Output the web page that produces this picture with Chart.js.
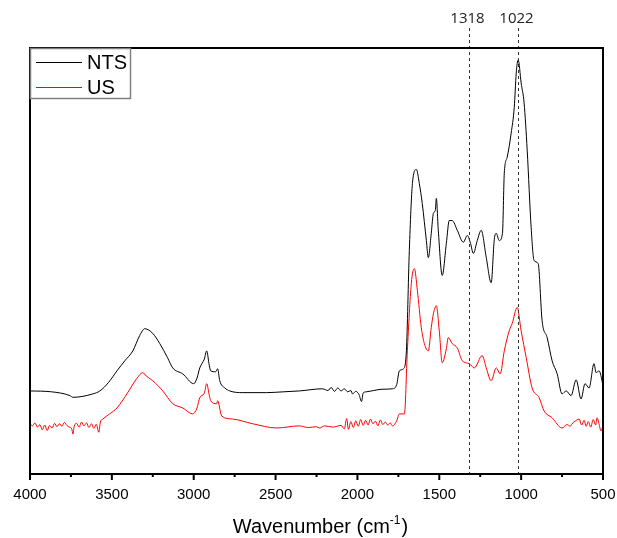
<!DOCTYPE html>
<html>
<head>
<meta charset="utf-8">
<script src="https://cdn.jsdelivr.net/npm/chart.js@4"></script>
<style>
  html, body { margin: 0; padding: 0; background: #fff; }
  #wrap { width: 617px; height: 538px; }
</style>
</head>
<body>
<div id="wrap"><canvas id="ftir"></canvas></div>
<script>
// spectra (wavenumber, arbitrary intensity)
const ntsWave = [
  4000, 3870, 3756, 3738, 3616, 3573, 3520, 3469, 3420, 3372,
  3330, 3299, 3250, 3207, 3160, 3128, 3067, 3000, 2980, 2963,
  2935, 2921, 2905, 2896, 2866, 2854, 2841, 2810, 2780, 2700,
  2555, 2450, 2354, 2213, 2180, 2160, 2140, 2120, 2100, 2080,
  2060, 2040, 2030, 2010, 1990, 1975, 1965, 1945, 1900, 1850,
  1786, 1760, 1744, 1719, 1701, 1683, 1664, 1640, 1622, 1604,
  1579, 1567, 1549, 1536, 1524, 1518, 1506, 1482, 1457, 1439,
  1421, 1390, 1353, 1329, 1311, 1292, 1268, 1244, 1213, 1183,
  1164, 1152, 1134, 1114, 1103, 1085, 1061, 1042, 1030, 1018,
  1000, 982, 963, 939, 921, 896, 872, 841, 811, 780,
  750, 725, 695, 664, 634, 610, 585, 555, 542, 524,
  506, 500
];
const ntsAbs = [
  19.5, 19.3, 18.4, 18.0, 18.8, 19.5, 21.5, 24.2, 26.6, 28.9,
  32.5, 34.1, 33.0, 30.6, 27.3, 24.9, 23.5, 21.2, 22.5, 24.9,
  27.0, 28.9, 25.5, 24.2, 24.0, 24.7, 21.9, 20.2, 19.5, 19.1,
  19.1, 19.3, 19.5, 20.0, 19.6, 20.3, 19.4, 20.2, 19.5, 20.0,
  19.3, 19.6, 18.8, 19.4, 18.6, 17.0, 19.0, 19.3, 19.6, 19.9,
  20.0, 21.0, 24.2, 24.7, 28.9, 52.5, 68.2, 71.5, 68.2, 63.5,
  54.8, 50.8, 56.5, 61.2, 61.9, 64.7, 57.2, 46.6, 54.1, 59.5,
  59.5, 57.2, 54.4, 56.0, 54.4, 51.8, 54.8, 57.2, 50.8, 44.9,
  55.1, 56.5, 54.8, 56.5, 70.6, 74.4, 80.0, 86.1, 94.1, 97.2,
  91.8, 87.1, 76.0, 57.9, 50.1, 49.4, 36.0, 32.0, 26.6, 23.5,
  18.8, 19.5, 18.4, 22.1, 17.6, 21.2, 20.2, 25.9, 23.8, 24.2,
  21.9, 20.5
];
const usWave = [
  4000, 3985, 3970, 3955, 3940, 3925, 3910, 3895, 3880, 3865,
  3850, 3835, 3820, 3805, 3790, 3775, 3760, 3745, 3738, 3730,
  3715, 3700, 3685, 3670, 3655, 3640, 3625, 3610, 3595, 3580,
  3570, 3555, 3510, 3469, 3408, 3348, 3311, 3290, 3250, 3189,
  3128, 3067, 3006, 2980, 2963, 2935, 2921, 2905, 2896, 2860,
  2854, 2829, 2762, 2640, 2494, 2354, 2300, 2250, 2232, 2200,
  2150, 2100, 2080, 2066, 2055, 2040, 2025, 2010, 1995, 1980,
  1965, 1950, 1935, 1920, 1905, 1890, 1875, 1860, 1845, 1830,
  1815, 1800, 1786, 1760, 1744, 1713, 1695, 1671, 1652, 1634,
  1610, 1591, 1567, 1549, 1536, 1518, 1500, 1482, 1457, 1445,
  1421, 1390, 1360, 1317, 1286, 1238, 1213, 1183, 1152, 1128,
  1103, 1073, 1055, 1024, 1000, 969, 933, 890, 860, 811,
  750, 720, 700, 689, 670, 646, 630, 615, 603, 590,
  575, 560, 545, 536, 525, 512, 500
];
const usAbs = [
  11.8, 11.3, 12.0, 11.0, 11.6, 10.4, 11.5, 10.2, 11.4, 10.8,
  11.9, 11.1, 11.8, 11.2, 12.1, 11.4, 11.0, 10.6, 9.4, 11.2,
  11.9, 11.0, 12.2, 11.3, 12.0, 10.9, 11.8, 10.7, 11.7, 9.8,
  12.2, 12.9, 14.2, 15.5, 18.8, 22.4, 23.8, 23.0, 21.9, 19.5,
  16.5, 15.5, 14.1, 15.5, 17.9, 19.0, 21.2, 18.5, 17.2, 16.5,
  17.2, 13.6, 12.9, 11.8, 10.8, 11.3, 10.9, 11.1, 10.8, 11.3,
  11.0, 11.4, 10.6, 13.0, 10.5, 12.3, 10.9, 12.5, 11.2, 12.8,
  11.4, 12.6, 11.5, 12.9, 11.8, 12.4, 11.3, 12.7, 11.6, 12.2,
  11.5, 12.0, 11.3, 12.5, 14.1, 14.1, 28.9, 44.7, 48.2, 43.1,
  34.4, 30.6, 28.9, 34.4, 37.6, 39.5, 33.6, 26.1, 29.4, 32.0,
  30.6, 29.6, 26.6, 25.9, 24.9, 27.8, 24.9, 21.9, 24.9, 23.5,
  28.9, 33.6, 35.3, 39.1, 33.6, 27.3, 20.2, 17.9, 14.8, 13.2,
  10.8, 11.6, 11.2, 11.8, 12.4, 12.9, 11.5, 12.6, 11.2, 12.3,
  11.0, 12.8, 11.5, 13.2, 11.9, 10.1, 11.3
];
const seriesNames = ["NTS", "US"];
const seriesColors = ["#000000", "#ff0000"];
const peakMarks = [1318, 1022];

const toPoints = (xs, ys) => xs.map((w, i) => ({ x: w, y: ys[i] }));

// frame, outward marks, dashed peak lines, legend box, axis title
const decorPlugin = {
  id: "decor",
  afterDraw(chart) {
    const { ctx, chartArea: a } = chart;
    const x = chart.scales.x;
    ctx.save();

    // dashed peak markers
    ctx.setLineDash([3, 3]);
    ctx.strokeStyle = "#333";
    ctx.lineWidth = 1;
    ctx.fillStyle = "#222";
    ctx.font = "15px 'Open Sans', sans-serif";
    ctx.textAlign = "center";
    ctx.textBaseline = "alphabetic";
    peakMarks.forEach((w) => {
      const px = Math.round(x.getPixelForValue(w)) + 0.5;
      ctx.beginPath();
      ctx.moveTo(px, 28);
      ctx.lineTo(px, a.bottom);
      ctx.stroke();
      ctx.fillText(String(w), px - 2, 23);
    });
    ctx.setLineDash([]);

    // plot frame
    ctx.strokeStyle = "#000";
    ctx.lineWidth = 2;
    ctx.strokeRect(a.left, a.top, a.right - a.left, a.bottom - a.top);

    // bottom ticks (outward)
    x.ticks.forEach((t) => {
      const px = x.getPixelForValue(t.value);
      const len = t.value % 500 === 0 ? 6 : 3;
      ctx.beginPath();
      ctx.moveTo(px, a.bottom);
      ctx.lineTo(px, a.bottom + len);
      ctx.stroke();
    });

    // legend box
    ctx.strokeStyle = "#808080";
    ctx.lineWidth = 1.5;
    ctx.strokeRect(a.left + 0.5, a.top + 0.5, 100, 50);
    ctx.font = "20px 'Liberation Sans', Arial, sans-serif";
    ctx.textAlign = "left";
    ctx.fillStyle = "#000";
    seriesNames.forEach((name, i) => {
      const y = a.top + 14 + i * 25;
      ctx.strokeStyle = seriesColors[i];
      ctx.lineWidth = 1;
      ctx.beginPath();
      ctx.moveTo(a.left + 6, y + 0.5);
      ctx.lineTo(a.left + 52, y + 0.5);
      ctx.stroke();
      ctx.fillText(name, a.left + 57, y + 7);
    });

    // x axis title with superscript
    const main = "Wavenumber (cm";
    const sup = "-1";
    const tail = ")";
    const bigFont = "20px 'Liberation Sans', Arial, sans-serif";
    const smallFont = "12px 'Liberation Sans', Arial, sans-serif";
    ctx.font = bigFont;
    const w1 = ctx.measureText(main).width;
    const w3 = ctx.measureText(tail).width;
    ctx.font = smallFont;
    const w2 = ctx.measureText(sup).width;
    const total = w1 + w2 + w3 + 1;
    let cx = (a.left + a.right) / 2 + 4 - total / 2;
    const base = 533;
    ctx.fillStyle = "#000";
    ctx.font = bigFont;
    ctx.fillText(main, cx, base);
    cx += w1;
    ctx.font = smallFont;
    ctx.fillText(sup, cx, base - 9);
    cx += w2 + 1;
    ctx.font = bigFont;
    ctx.fillText(tail, cx, base);

    ctx.restore();
  }
};

new Chart(document.getElementById("ftir"), {
  type: "line",
  data: {
    datasets: [
      {
        label: seriesNames[0],
        data: toPoints(ntsWave, ntsAbs),
        borderColor: seriesColors[0],
        borderWidth: 1,
        pointRadius: 0,
        cubicInterpolationMode: "monotone",
      },
      {
        label: seriesNames[1],
        data: toPoints(usWave, usAbs),
        borderColor: seriesColors[1],
        borderWidth: 1,
        pointRadius: 0,
        cubicInterpolationMode: "monotone",
      },
    ],
  },
  options: {
    responsive: true,
    maintainAspectRatio: false,
    animation: false,
    events: [],
    layout: { padding: { left: 30, right: 14, top: 48, bottom: 0 } },
    plugins: {
      legend: { display: false },
      tooltip: { enabled: false },
    },
    scales: {
      x: {
        type: "linear",
        min: 500,
        max: 4000,
        reverse: true,
        grid: { display: false, drawTicks: false },
        border: { display: false },
        afterFit: (s) => {
          s.height = 64;
          s.paddingLeft = 0;
          s.paddingRight = 0;
        },
        ticks: {
          stepSize: 250,
          autoSkip: false,
          maxRotation: 0,
          padding: 12,
          color: "#000",
          font: { family: "'Liberation Sans', Arial, sans-serif", size: 15 },
          callback: (v) => (v % 500 === 0 ? String(v) : ""),
        },
      },
      y: {
        display: false,
        min: 0,
        max: 100,
      },
    },
  },
  plugins: [decorPlugin],
});
</script>
</body>
</html>
